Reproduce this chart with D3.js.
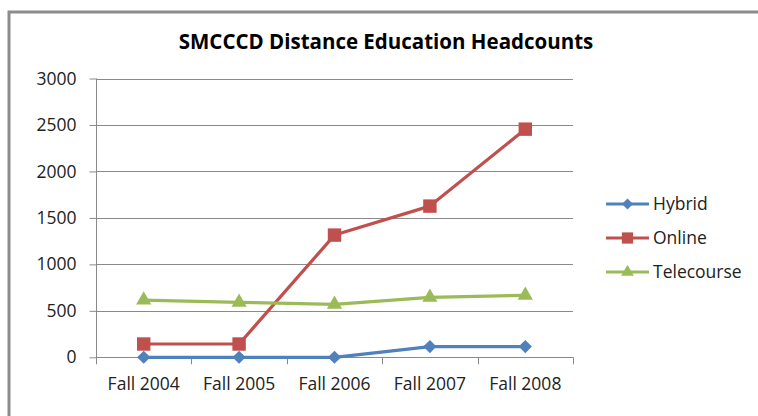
<!DOCTYPE html>
<html>
<head>
<meta charset="utf-8">
<script src="https://cdn.jsdelivr.net/npm/d3@7"></script>
<style>
  body { margin: 0; background: #fff; }
  text { font-family: "Open Sans", "Noto Sans", sans-serif; }
</style>
</head>
<body>
<svg id="chart" width="758" height="416"></svg>
<script>
// chart data
var years = ["Fall 2004", "Fall 2005", "Fall 2006", "Fall 2007", "Fall 2008"];
var hybrid = [0, 0, 0, 115, 115];
var online = [143, 143, 1315, 1627, 2455];
var telecourse = [616, 591, 570, 645, 667];
var yTicks = [0, 500, 1000, 1500, 2000, 2500, 3000];

var series = [
  {name: "Hybrid", values: hybrid, color: "#4F81BD", symbol: d3.symbolDiamond2, size: 110},
  {name: "Online", values: online, color: "#C0504D", symbol: d3.symbolSquare, size: 180},
  {name: "Telecourse", values: telecourse, color: "#9BBB59", symbol: d3.symbolTriangle, size: 100}
];

var svg = d3.select("#chart");

// outer frame
svg.append("rect")
  .attr("x", 9).attr("y", 12)
  .attr("width", 760).attr("height", 420)
  .attr("fill", "none")
  .attr("stroke", "#8c8c8c")
  .attr("stroke-width", 3);

var plotLeft = 96, plotRight = 573, plotTop = 78.5, plotBottom = 357.3;

var x = d3.scaleBand().domain(years).range([plotLeft, plotRight]);
var y = d3.scaleLinear().domain([0, 3000]).range([plotBottom, plotTop]);

svg.append("text")
  .attr("x", 386).attr("y", 49)
  .attr("text-anchor", "middle")
  .attr("font-size", 20.5)
  .attr("font-weight", "bold")
  .attr("fill", "#000")
  .text("SMCCCD Distance Education Headcounts");

// gridlines
svg.append("g")
  .selectAll("line")
  .data(yTicks)
  .join("line")
  .attr("x1", plotLeft).attr("x2", plotRight)
  .attr("y1", function(d) { return Math.round(y(d)) + 0.5; })
  .attr("y2", function(d) { return Math.round(y(d)) + 0.5; })
  .attr("stroke", "#8a8a8a")
  .attr("stroke-width", 1);

// y axis
var yAxis = svg.append("g")
  .attr("transform", "translate(" + (plotLeft + 0.5) + ",0)")
  .call(d3.axisLeft(y).tickValues(yTicks).tickFormat(d3.format("d")).tickSize(7).tickPadding(13));
yAxis.select(".domain").attr("stroke", "#8a8a8a").attr("d", "M0," + plotTop + "V" + plotBottom);
yAxis.selectAll(".tick line").attr("stroke", "#8a8a8a");
yAxis.selectAll("text").attr("font-size", 17.5).attr("fill", "#222")
  .attr("font-family", "\"Open Sans\", sans-serif");

// x axis
var xAxis = svg.append("g")
  .attr("transform", "translate(0," + (Math.round(plotBottom) + 0.5) + ")")
  .call(d3.axisBottom(x).tickSize(0).tickPadding(20));
xAxis.select(".domain").remove();
xAxis.selectAll("text").attr("font-size", 17.5).attr("fill", "#222")
  .attr("font-family", "\"Open Sans\", sans-serif");
// x tick marks between categories
svg.append("g")
  .selectAll("line")
  .data(years.concat([null]))
  .join("line")
  .attr("x1", function(d, i) { return Math.round(plotLeft + i * x.step()) + 0.5; })
  .attr("x2", function(d, i) { return Math.round(plotLeft + i * x.step()) + 0.5; })
  .attr("y1", plotBottom).attr("y2", plotBottom + 7)
  .attr("stroke", "#8a8a8a");

var line = d3.line()
  .x(function(d, i) { return x(years[i]) + x.bandwidth() / 2; })
  .y(function(d) { return y(d); });

series.forEach(function(s) {
  svg.append("path")
    .attr("d", line(s.values))
    .attr("fill", "none")
    .attr("stroke", s.color)
    .attr("stroke-width", 3.2)
    .attr("stroke-linejoin", "round");
  svg.append("g")
    .selectAll("path")
    .data(s.values)
    .join("path")
    .attr("transform", function(d, i) {
      return "translate(" + (x(years[i]) + x.bandwidth() / 2) + "," + y(d) + ")";
    })
    .attr("d", d3.symbol().type(s.symbol).size(s.size))
    .attr("fill", s.color);
});

// legend
var legend = svg.append("g")
  .selectAll("g")
  .data(series)
  .join("g")
  .attr("transform", function(d, i) { return "translate(606," + (204 + i * 34) + ")"; });
legend.append("line")
  .attr("x1", 0).attr("x2", 43)
  .attr("stroke", function(d) { return d.color; })
  .attr("stroke-width", 3.2);
legend.append("path")
  .attr("transform", "translate(21.5,0)")
  .attr("d", function(d) { return d3.symbol().type(d.symbol).size(d.size * 0.7)(); })
  .attr("fill", function(d) { return d.color; });
legend.append("text")
  .attr("x", 47).attr("dy", "0.35em")
  .attr("font-size", 17.5)
  .attr("fill", "#222")
  .text(function(d) { return d.name; });
</script>
</body>
</html>
